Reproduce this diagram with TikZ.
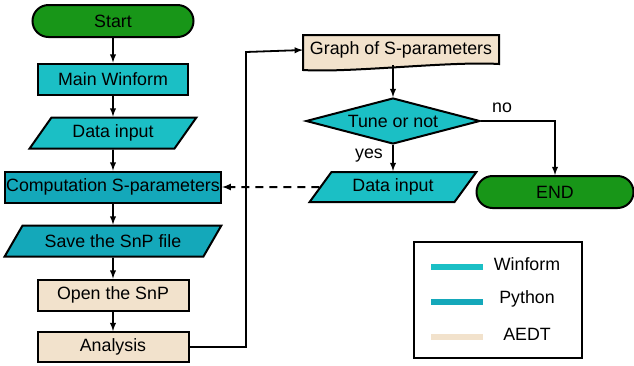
\documentclass[tikz,border=0pt]{standalone}
\usepackage{fontspec}
\setmainfont{Liberation Sans}
\usetikzlibrary{shapes.geometric}
\definecolor{winform}{RGB}{27,191,197}
\definecolor{python}{RGB}{20,168,186}
\definecolor{aedt}{RGB}{242,226,204}
\definecolor{termgreen}{RGB}{24,150,24}
\begin{document}
\begin{tikzpicture}[x=1pt,y=-1pt,font=\fontsize{17.8}{20}\selectfont,
  box/.style={draw,line width=2pt,inner sep=0pt,minimum height=31pt},
  term/.style={box,rounded corners=16pt,fill=termgreen,minimum height=32pt},
  io/.style={box,trapezium,trapezium left angle=49,trapezium right angle=131,trapezium stretches=true},
  arr/.style={-latex,line width=1.8pt}]
\useasboundingbox(0,0)rectangle(634,365);
% left column
\node[term,minimum width=161pt](start)at(113,21){Start};
\node[box,fill=winform,minimum width=150pt](mainw)at(113,79){Main Winform};
\node[io,fill=winform,minimum width=167pt](in1)at(113,133){Data input};
\node[box,fill=python,minimum width=216pt](comp)at(113,187){Computation S-parameters};
\node[io,fill=python,minimum width=217pt,trapezium left angle=44,trapezium right angle=136](save)at(113,241){Save the SnP file};
\node[box,fill=aedt,minimum width=151pt](opens)at(113,295){Open the SnP};
\node[box,fill=aedt,minimum width=151pt,minimum height=30pt](ana)at(113,347){Analysis};
\foreach \a/\b in {start/mainw,mainw/in1,in1/comp,comp/save,save/opens,opens/ana}
  \draw[arr](\a)--(\b);
% right column
\draw[line width=2pt,fill=aedt](303,35)--(499,35)--(499,64)..controls(450,61)and(350,73)..(303,70)--cycle;
\node[inner sep=0pt,minimum width=196pt,minimum height=30pt](graph)at(401,50){Graph of S-parameters};
\node[box,diamond,shape aspect=3.8,fill=winform,minimum width=174pt,minimum height=46pt](tune)at(393,121){Tune or not};
\node[io,fill=winform,minimum width=167pt,minimum height=30pt](in2)at(393,187){Data input};
\node[term,minimum width=157pt](fin)at(555,192){END};
\node(no)at(502,108){no};
\node(yes)at(369,156){yes};
\coordinate(bend)at(246,52);
\draw[arr](ana.east)-|(bend)--(graph.west);
\draw[arr](tune.north|-graph.south)--(tune.north);
\draw[arr](tune.south)--(in2.north);
\draw[arr](tune.east)-|(fin.north);
\draw[arr,dash pattern=on 8pt off 6pt,line width=2pt](in2.west)--(comp.east);
% legend
\node[draw,line width=2pt,minimum width=168pt,minimum height=116pt](legend)at(498,300){};
\foreach \c/\t/\y in {winform/Winform/267,python/Python/302,aedt/AEDT/337}{
  \node[fill=\c,inner sep=0pt,minimum width=52pt,minimum height=6pt](l\t)at(457,\y){};
  \node(t\t)at(527,\y-3){\t};
}
\end{tikzpicture}
\end{document}
